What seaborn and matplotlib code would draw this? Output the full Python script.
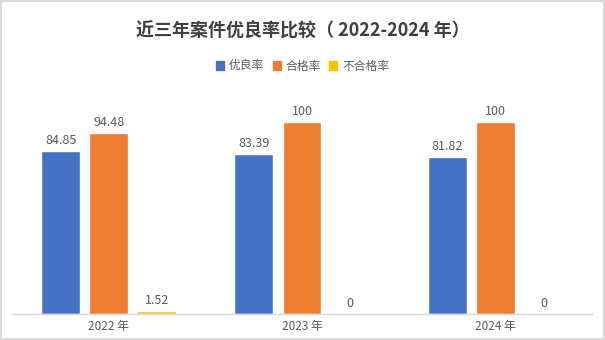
import matplotlib
matplotlib.use("Agg")
import matplotlib.pyplot as plt
import seaborn as sns
import pandas as pd

years = ["2022 年", "2023 年", "2024 年"]
series = ["优良率", "合格率", "不合格率"]
excellent = [84.85, 83.39, 81.82]
qualified = [94.48, 100, 100]
unqualified = [1.52, 0, 0]
colors = ["#4472C4", "#ED7D31", "#FFC000"]

sns.set_theme(style="white")
plt.rcParams["font.family"] = ["Noto Sans CJK SC", "DejaVu Sans"]

rows = []
for name, vals in zip(series, [excellent, qualified, unqualified]):
    for y, v in zip(years, vals):
        rows.append({"年份": y, "指标": name, "值": v})
df = pd.DataFrame(rows)

fig = plt.figure(figsize=(6.05, 3.4), dpi=100)
fig.patch.set_edgecolor("#D9D9D9")
fig.patch.set_linewidth(1.5)
ax = fig.add_axes([12 / 605, 26 / 340, 580 / 605, 211 / 340])

sns.barplot(data=df, x="年份", y="值", hue="指标", palette=colors,
            width=0.746, gap=0.19, ax=ax, legend=False, saturation=1)

for container in ax.containers:
    ax.bar_label(container, labels=[f"{v:g}" for v in container.datavalues],
                 padding=3, fontsize=9, color="#595959")

ax.set_xlim(-0.5, 2.5)
ax.set_ylim(0, 110)
ax.set_xlabel("")
ax.set_ylabel("")
ax.set_yticks([])
for s in ["top", "right", "left"]:
    ax.spines[s].set_visible(False)
ax.spines["bottom"].set_color("#D9D9D9")
ax.spines["bottom"].set_linewidth(1)
ax.tick_params(axis="x", length=0, labelsize=8.5, labelcolor="#595959", pad=4)

fig.text(0.5, 1 - 31 / 340, "近三年案件优良率比较（ 2022-2024 年）", ha="center", va="center",
         fontsize=13, fontweight="bold", color="#404040")

handles = [plt.Rectangle((0, 0), 1, 1, color=c) for c in colors]
fig.legend(handles, series, loc="center", bbox_to_anchor=(0.5, 1 - 66 / 340), ncol=3,
           frameon=False, fontsize=8.5, labelcolor="#595959", handlelength=0.7,
           handleheight=0.7, handletextpad=0.4, columnspacing=0.7)

fig.savefig("out.png", dpi=100, edgecolor=fig.get_edgecolor())
